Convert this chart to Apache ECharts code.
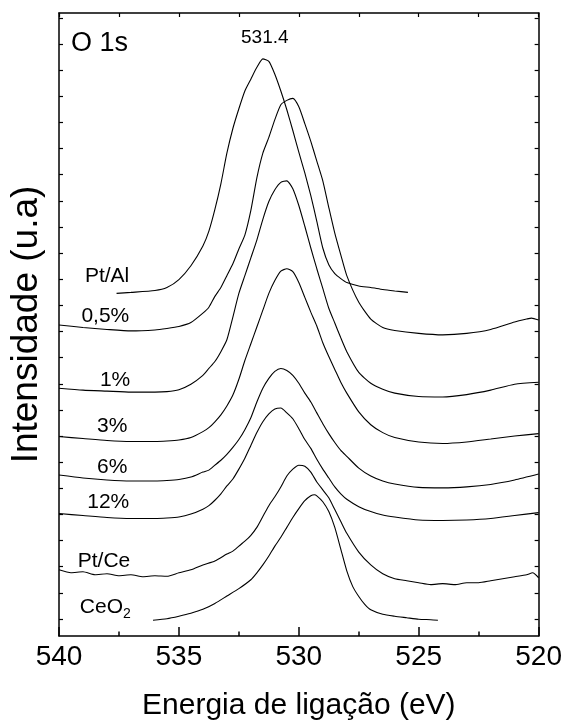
<!DOCTYPE html>
<html>
<head>
<meta charset="utf-8">
<script src="https://cdn.jsdelivr.net/npm/echarts@6/dist/echarts.min.js"></script>
<style>
html,body{margin:0;padding:0;background:#fff;}
#chart{width:565px;height:726px;}
</style>
</head>
<body>
<div id="chart"></div>
<script>
// ---------- data (binding energy in eV, intensity in a.u., spectra stacked with offsets) ----------
const xTicks = [540, 535, 530, 525, 520];
const xTitle = 'Energia de ligação (eV)';
const yTitle = 'Intensidade (u.a)';

const e_PtAl = [537.6,537,536,535.5,535,534.5,534,533.75,533.5,533.25,533,532.75,532.5,532.25,532,531.75,531.5,531.25,531,530.75,530.5,530.25,530,529.75,529.5,529.25,529,528.75,528.5,528.25,528,527.5,527,526.5,526,525.45];
const i_PtAl = [347,348,350,353,361,375,395,410,432,458,489,514,534,552,564,576,584.5,582,569,552,533,512,490,469,446,420,393,376,367,362,358,354.5,353,351,349.5,348];

const e_05 = [540,539,538,537,536,535.5,535,534.5,534,533.75,533.5,533.25,533,532.75,532.5,532.25,532,531.75,531.5,531.25,531,530.75,530.5,530.25,530,529.75,529.5,529.25,529,528.75,528.5,528.25,528,527.5,527,526.5,526,525,524,523,522,521,520.5,520.3,520];
const i_05 = [315,312.5,310.5,309,310,311.5,313.5,317.5,327,333,344,353,365,377,392,406,431,464,489,505,523,538,542.5,544.5,536,519,501,481,461,434,408,386,365,338,321,312.5,309.5,306.5,305,306.5,310.5,318,321,322,320];

const e_1 = [540,539,538,537,536,535.5,535,534.5,534,533.75,533.5,533.25,533,532.75,532.5,532.25,532,531.75,531.5,531.25,531,530.75,530.5,530.25,530,529.75,529.5,529.25,529,528.75,528.5,528.25,528,527.5,527,526.5,526,525,524,523,522,521,520];
const i_1 = [251,249,248,247,247,247.5,249.5,255,264,271,278,288,300,323,347,365,383,401,422,440,452,459.5,461,453,436,415,393,372,352,332,317,302,288,267,256,250,246,242.5,242,244.5,249,255,257];

const e_3 = [540,539,538,537,536,535.5,535,534.5,534,533.75,533.5,533.25,533,532.75,532.5,532.25,532,531.75,531.5,531.25,531,530.75,530.5,530.25,530,529.75,529.5,529.25,529,528.75,528.5,528.25,528,527.5,527,526.5,526,525,524,523,522,521,520];
const i_3 = [202,200,198,197,197,197.5,198.5,201,207,211,217,224,233,244,260,279,296,313,330,347,360,369.5,372,369,358,343,328,314,297,283,270,257,246,227,214,206,201,196.5,195,196.5,199.5,202.5,205];

const e_6 = [540,539,538,537,536,535.5,535,534.5,534,533.75,533.5,533.25,533,532.75,532.5,532.25,532,531.75,531.5,531.25,531,530.75,530.5,530.25,530,529.75,529.5,529.25,529,528.75,528.5,528.25,528,527.5,527,526.5,526,525,524,523,522,521,520];
const i_6 = [163,160,158,157,157,157.5,158.5,161,166,168,173,178,184,191,199,209,221,237,251,261,268,271,269,264,256,246,237,226,215,205,196,188,182,170,162,157,154,150.5,150,151,153.5,158,164];

const e_12 = [540,539,538,537,536,535.5,535,534.5,534,533.75,533.5,533.25,533,532.75,532.5,532.25,532,531.75,531.5,531.25,531,530.75,530.5,530.25,530,529.75,529.5,529.25,529,528.75,528.5,528.25,528,527.5,527,526.5,526,525,524,523,522,521,520];
const i_12 = [124,122,120,119,119,119.5,120.5,123.5,128.5,132,137.5,144,152,159,169,180,193,206,217,225,230,231,226,220,210,199,190,179,169,160,151,144,138.5,131,126,122.5,120.5,117.5,117,117.5,119,122,125];

const e_PtCe = [540,539.5,539,538.5,538,537.5,537,536.5,536,535.5,535,534.5,534,533.5,533,532.75,532.5,532.25,532,531.75,531.5,531.25,531,530.75,530.5,530.25,530,529.75,529.5,529.25,529,528.75,528.5,528.25,528,527.5,527,526.5,526,525.5,525,524.5,524,523.5,523,522.5,522,521.5,521,520.5,520.25,520];
const i_PtCe = [67,64,65,62,63,61,62,60,61,60.5,64,67,72,76,83,86,91,96,102,110,121,132,141,151,162,169,173,172,166,156,148,140,128,116,104,85,72,63,58,56,54,52,53,52,54,54,56,58,60,62,64,59];

const e_CeO2 = [536.08,535.5,535,534.5,534,533.5,533,532.5,532,531.75,531.5,531.25,531,530.75,530.5,530.25,530,529.75,529.5,529.35,529.25,529,528.75,528.5,528.25,528,527.75,527.5,527.25,527,526.5,526,525.5,525,524.5,524.2];
const i_CeO2 = [16,17.5,20,23,27,33,40.5,48,57,64,72,81,91,100,110,120,129,137,142,143,142,136,126,110,88,66,50,40,32,26.5,22,20,18.5,17,16.5,16];

const sampleNames = ['Pt/Al', '0,5%', '1%', '3%', '6%', '12%', 'Pt/Ce', 'CeO2'];
const sampleE = [e_PtAl, e_05, e_1, e_3, e_6, e_12, e_PtCe, e_CeO2];
const sampleI = [i_PtAl, i_05, i_1, i_3, i_6, i_12, i_PtCe, i_CeO2];

// annotations: [energy, intensity, text]
const sampleLabels = [
  [537.07, 364, 'Pt/Al'],
  [537.07, 324, '0,5%'],
  [537.03, 259, '1%'],
  [537.15, 212, '3%'],
  [537.15, 171, '6%'],
  [537.07, 136, '12%'],
  [537.03, 76, 'Pt/Ce']
];
const ceo2Label = [539.13, 29, 'CeO{sub|2}'];
const panelLabel = [539.5, 600, 'O 1s'];
const peakLabel = [531.42, 606, '531.4'];

// y-axis tick positions (no labels)
const yTickStart = 17.2, yTickStep = 26.47, yTickCount = 24;
const yTicks = [];
for (let k = 0; k < yTickCount; k++) yTicks.push(+(yTickStart + k * yTickStep).toFixed(2));

// ---------- chart ----------
const FONT = "'Liberation Sans', Arial, Helvetica, sans-serif";
const chart = echarts.init(document.getElementById('chart'), null, {renderer: 'canvas'});

const lineSeries = sampleNames.map((name, k) => ({
  name: name,
  type: 'line',
  xAxisIndex: 0, yAxisIndex: 0,
  data: sampleE[k].map((e, j) => [e, sampleI[k][j]]),
  showSymbol: false,
  symbol: 'none',
  smooth: 0.2,
  lineStyle: {color: '#000', width: 1.1, opacity: 1},
  silent: true,
  z: 3
}));

const textSeries = {
  type: 'scatter',
  xAxisIndex: 0, yAxisIndex: 0,
  symbolSize: 0,
  silent: true,
  itemStyle: {opacity: 1, color: '#000'},
  data: [
    ...sampleLabels.map(d => ({value: [d[0], d[1]], label: {formatter: d[2], align: 'right'}})),
    {value: [ceo2Label[0], ceo2Label[1]], label: {formatter: ceo2Label[2], align: 'left'}},
    {value: [panelLabel[0], panelLabel[1]], label: {formatter: panelLabel[2], align: 'left', fontSize: 27}},
    {value: [peakLabel[0], peakLabel[1]], label: {formatter: peakLabel[2], align: 'center', fontSize: 19}}
  ],
  label: {
    show: true,
    position: 'inside',
    color: '#000',
    opacity: 1,
    textBorderWidth: 0,
    fontFamily: FONT,
    fontSize: 21,
    verticalAlign: 'middle',
    rich: {
      sub: {fontSize: 14, fontFamily: FONT, color: '#000', padding: [14, 0, 0, 0]}
    }
  },
  z: 5
};

const axisLineStyle = {color: '#000', width: 1.5};

chart.setOption({
  animation: false,
  backgroundColor: '#fff',
  grid: {left: 56, right: 24, top: 13, bottom: 82, containLabel: false},
  xAxis: [
    {
      type: 'value', position: 'bottom', min: 520, max: 540, interval: 5, inverse: true,
      axisLine: {show: true, onZero: false, lineStyle: axisLineStyle},
      axisTick: {show: true, inside: true, length: 9, lineStyle: {color: '#000', width: 1.5}},
      minorTick: {show: true, splitNumber: 2, length: 4.5, lineStyle: {color: '#000', width: 1.5}},
      axisLabel: {show: true, color: '#000', fontSize: 28, fontFamily: FONT, margin: 7,
        customValues: xTicks},
      splitLine: {show: false},
      name: xTitle, nameLocation: 'middle', nameGap: 55,
      nameTextStyle: {color: '#000', fontSize: 30, fontFamily: FONT}
    },
    {
      type: 'value', position: 'top', min: 520, max: 540, interval: 2.5, inverse: true,
      axisLine: {show: true, onZero: false, lineStyle: axisLineStyle},
      axisTick: {show: true, inside: true, length: 4, lineStyle: {color: '#000', width: 1.2}},
      axisLabel: {show: false},
      splitLine: {show: false}
    }
  ],
  yAxis: [
    {
      type: 'value', position: 'left', min: 0, max: 631,
      axisLine: {show: true, onZero: false, lineStyle: axisLineStyle},
      axisTick: {show: true, inside: true, length: 4, customValues: yTicks, lineStyle: {color: '#000', width: 1.2}},
      axisLabel: {show: false},
      splitLine: {show: false},
      name: yTitle, nameLocation: 'middle', nameGap: 14,
      nameTextStyle: {color: '#000', fontSize: 37, fontFamily: FONT}
    },
    {
      type: 'value', position: 'right', min: 0, max: 631,
      axisLine: {show: true, onZero: false, lineStyle: axisLineStyle},
      axisTick: {show: true, inside: true, length: 4, customValues: yTicks, lineStyle: {color: '#000', width: 1.2}},
      axisLabel: {show: false},
      splitLine: {show: false}
    }
  ],
  series: [...lineSeries, textSeries]
});
</script>
</body>
</html>
